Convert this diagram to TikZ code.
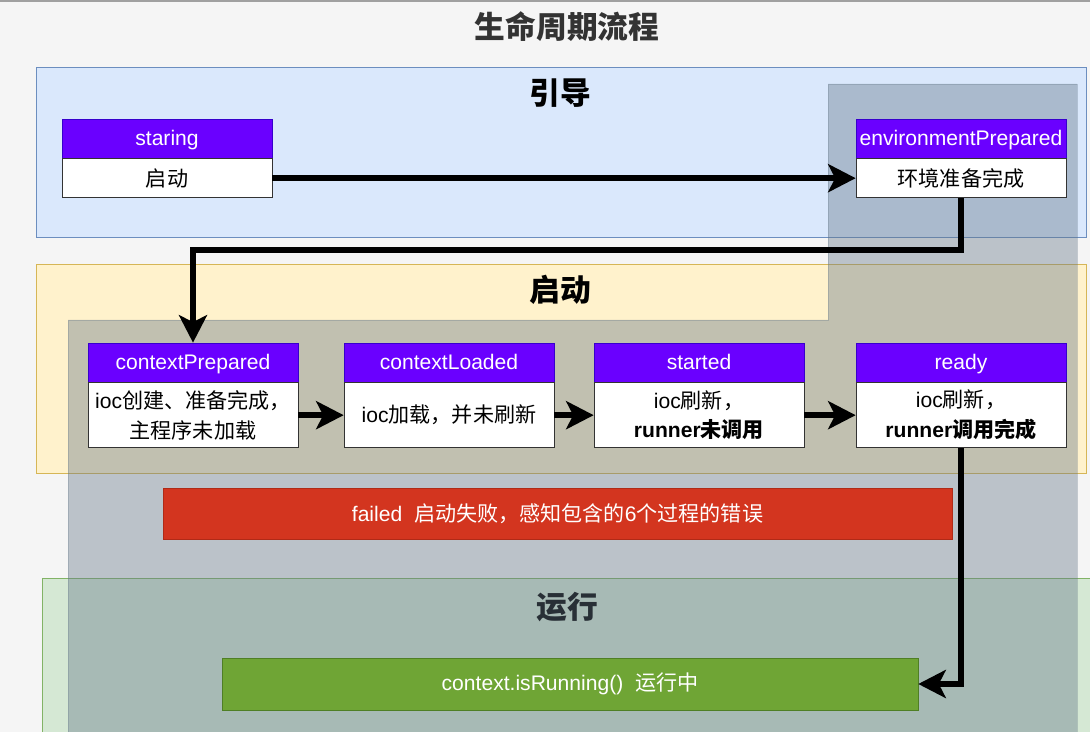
\documentclass[tikz,border=0pt]{standalone}
\usepackage{fontspec}
\setmainfont{Liberation Sans}
\newfontfamily\cjk{Noto Sans CJK SC}
\usetikzlibrary{positioning,arrows.meta}
\definecolor{pagebg}{HTML}{F5F5F5}
\definecolor{topline}{HTML}{A0A0A0}
\definecolor{titlegray}{HTML}{333333}
\definecolor{bootfill}{HTML}{DAE8FC}
\definecolor{bootline}{HTML}{6C8EBF}
\definecolor{startfill}{HTML}{FFF2CC}
\definecolor{startline}{HTML}{D6B656}
\definecolor{runfill}{HTML}{D5E8D4}
\definecolor{runline}{HTML}{82B366}
\definecolor{shade}{HTML}{647687}
\definecolor{headfill}{HTML}{6A00FF}
\definecolor{headline}{HTML}{3700CC}
\definecolor{bodyline}{HTML}{333333}
\definecolor{failfill}{HTML}{D3351F}
\definecolor{failline}{HTML}{B02A17}
\definecolor{okfill}{HTML}{6FA535}
\definecolor{okline}{HTML}{4F7F25}
\begin{document}
\begin{tikzpicture}[x=0.02cm,y=-0.02cm,
	phase/.style={font=\cjk\bfseries\fontsize{17.5}{20}\selectfont,text=black},
	head/.style={draw=headline,fill=headfill,text=white,minimum width=4.2cm,minimum height=0.78cm,inner sep=0pt,text height=0.86em,text depth=0.1em,font=\fontsize{12}{14}\selectfont},
	body/.style={draw=bodyline,fill=white,minimum width=4.2cm,minimum height=#1,inner sep=0pt,align=center,font=\fontsize{12}{17}\selectfont},
	body/.default=0.78cm,
	flow/.style={line width=3.4pt,-{Stealth[length=0.55cm,width=0.56cm,inset=0.14cm]}}]
	\useasboundingbox (0,0) rectangle (1090,732);
	\fill[pagebg] (0,0) rectangle (1090,732);
	\fill[topline] (0,0) rectangle (1090,2);
	\node[font=\cjk\bfseries\fontsize{17.5}{20}\selectfont,text=titlegray] (title) at (567,27) {生命周期流程};
	\draw[bootline,fill=bootfill] (36,67) rectangle (1086,237);
	\node[phase] (bootLabel) at (560,93) {引导};
	\draw[startline,fill=startfill] (36,264) rectangle (1086,473);
	\node[phase] (startLabel) at (560,290) {启动};
	\draw[runline,fill=runfill] (42,578) rectangle (1100,745);
	\node[phase] (runLabel) at (567,607) {运行};
	\filldraw[fill=shade,draw=shade,fill opacity=0.4,draw opacity=0.3] (828,84) -- (1077,84) -- (1077,745) -- (68,745) -- (68,320) -- (828,320) -- cycle;
	\node[head] (staringHead) at (167,138.5) {staring};
	\node[body,below=0pt of staringHead] (staring) {\cjk 启动};
	\node[head] (envHead) at (961,138.5) {environmentPrepared};
	\node[body,below=0pt of envHead] (env) {\cjk 环境准备完成};
	\node[head] (ctxPrepHead) at (193,362.5) {contextPrepared};
	\node[body=1.3cm,below=0pt of ctxPrepHead] (ctxPrep) {ioc{\cjk 创建、准备完成，}\\{\cjk 主程序未加载}};
	\node[head] (ctxLoadHead) at (449,362.5) {contextLoaded};
	\node[body=1.3cm,below=0pt of ctxLoadHead] (ctxLoad) {ioc{\cjk 加载，并未刷新}};
	\node[head] (startedHead) at (699,362.5) {started};
	\node[body=1.3cm,below=0pt of startedHead] (started) {ioc{\cjk 刷新，}\\\textbf{runner{\cjk 未调用}}};
	\node[head] (readyHead) at (961,362.5) {ready};
	\node[body=1.3cm,below=0pt of readyHead] (ready) {ioc{\cjk 刷新，}\\\textbf{runner{\cjk 调用完成}}};
	\node[draw=failline,fill=failfill,text=white,minimum width=15.78cm,minimum height=1.02cm,font=\fontsize{12}{14}\selectfont] (failed) at (557.5,513.5) {failed\ \ {\cjk 启动失败，感知包含的}6{\cjk 个过程的错误}};
	\node[draw=okline,fill=okfill,text=white,minimum width=13.92cm,minimum height=1.04cm,font=\fontsize{12}{14}\selectfont] (running) at (570,684) {context.isRunning()\ \ {\cjk 运行中}};
	\coordinate (turn) at (0,250);
	\draw[flow] (staring) -- (env);
	\draw[flow] (env.south) -- (env.south |- turn) -| (ctxPrepHead.north);
	\draw[flow] (ctxPrep) -- (ctxLoad);
	\draw[flow] (ctxLoad) -- (started);
	\draw[flow] (started) -- (ready);
	\draw[flow] (ready.south) |- (running.east);
\end{tikzpicture}
\end{document}
